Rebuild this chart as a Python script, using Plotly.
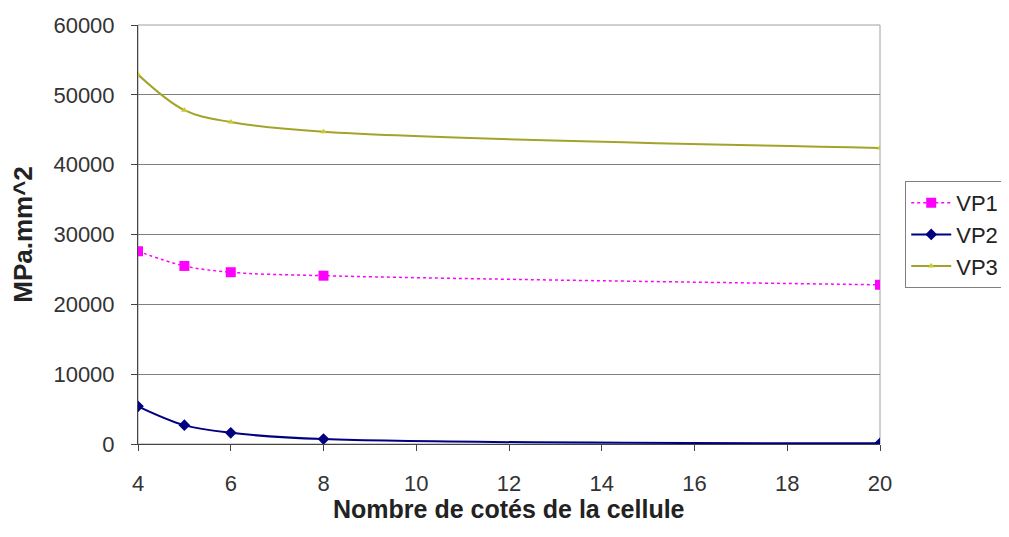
import plotly.graph_objects as go

# number of sides of the cell
sides = [4, 5, 6, 8, 20]

# eigen values (MPa.mm^2)
vp1 = [27600, 25500, 24600, 24100, 22800]
vp2 = [5400, 2700, 1600, 700, 100]
vp3 = [52900, 47800, 46100, 44700, 42400]

x_ticks = [4, 6, 8, 10, 12, 14, 16, 18, 20]
y_ticks = [0, 10000, 20000, 30000, 40000, 50000, 60000]
y_labels = ['0', '10000', '20000', '30000', '40000', '50000', '60000']

fig = go.Figure()

fig.add_trace(go.Scatter(
    x=sides, y=vp1, name='VP1', mode='lines+markers',
    line=dict(color='#FF00FF', width=1.5, dash='dot', shape='spline'),
    marker=dict(symbol='square', size=10, color='#FF00FF'),
))
fig.add_trace(go.Scatter(
    x=sides, y=vp2, name='VP2', mode='lines+markers',
    line=dict(color='#000080', width=2, shape='spline'),
    marker=dict(symbol='diamond', size=9, color='#000080'),
))
fig.add_trace(go.Scatter(
    x=sides, y=vp3, name='VP3', mode='lines+markers',
    line=dict(color='#A3A32A', width=2, shape='spline'),
    marker=dict(symbol='triangle-up', size=6, color='#C8C830'),
))

# grey plot-area frame like the spreadsheet chart
fig.add_shape(type='rect', xref='paper', yref='paper', x0=0, y0=0, x1=1, y1=1,
              line=dict(color='#A0A0A0', width=1), layer='below')

# x title as annotation, placed low under the tick labels
fig.add_annotation(text='<b>Nombre de cotés de la cellule</b>', xref='paper', yref='paper',
                   x=0.5, y=0, xanchor='center', yanchor='top', yshift=-49, showarrow=False,
                   font=dict(size=25, color='#222222'))

# page body has an 8px margin, so the figure is 16px smaller than the window
fig.update_layout(
    width=993, height=521,
    margin=dict(l=130, r=121, t=17, b=85, autoexpand=False),
    plot_bgcolor='white',
    paper_bgcolor='white',
    font=dict(family='Liberation Sans, Arial, sans-serif', size=22, color='#333333'),
    showlegend=True,
    legend=dict(
        x=1.034, y=0.5, xanchor='left', yanchor='middle',
        bordercolor='#808080', borderwidth=1,
        font=dict(size=22, color='#222222'),
        tracegroupgap=6, itemwidth=40,
    ),
    xaxis=dict(
        range=[4, 20], tickvals=x_ticks, showgrid=False, zeroline=False,
        showline=True, linecolor='#444444', linewidth=1,
        ticks='outside', ticklen=6, tickcolor='#444444', ticklabelstandoff=14,
        automargin=False,
    ),
    yaxis=dict(
        range=[0, 60000], tickvals=y_ticks, ticktext=y_labels,
        showgrid=True, gridcolor='#808080', gridwidth=1,
        zeroline=False, showline=True, linecolor='#444444', linewidth=1,
        ticks='outside', ticklen=6, tickcolor='#444444', ticklabelstandoff=12,
        automargin=False,
        title=dict(text='<b>MPa.mm^2</b>', font=dict(size=26, color='#222222'), standoff=18),
    ),
)

fig.write_html('out.html')
